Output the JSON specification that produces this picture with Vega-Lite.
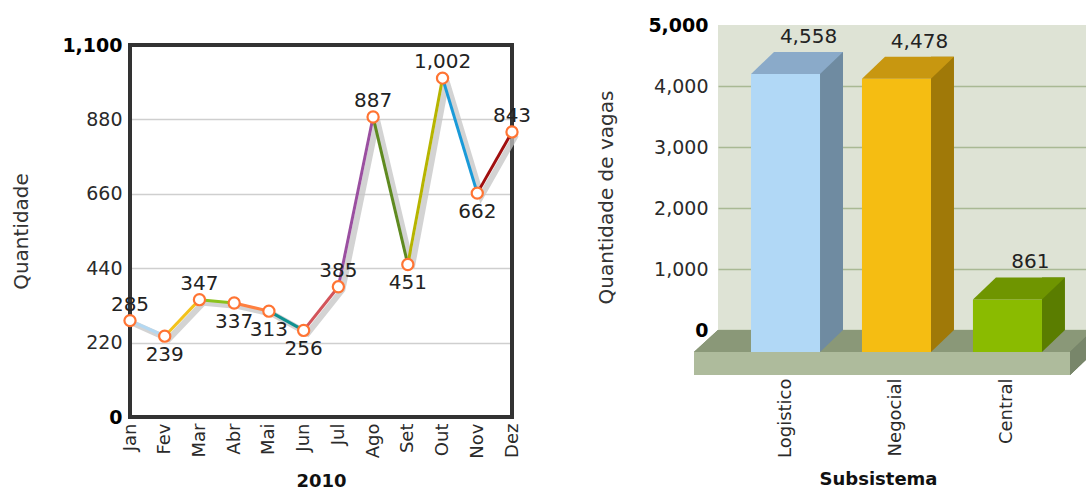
{
  "$schema": "https://vega.github.io/schema/vega-lite/v6.json",
  "padding": {"left": 11, "top": 16, "right": 0, "bottom": 0},
  "background": "white",
  "bounds": "flush",
  "spacing": 206,
  "datasets": {
    "mensal": [
      {"mes": "Jan", "valor": 285},
      {"mes": "Fev", "valor": 239},
      {"mes": "Mar", "valor": 347},
      {"mes": "Abr", "valor": 337},
      {"mes": "Mai", "valor": 313},
      {"mes": "Jun", "valor": 256},
      {"mes": "Jul", "valor": 385},
      {"mes": "Ago", "valor": 887},
      {"mes": "Set", "valor": 451},
      {"mes": "Out", "valor": 1002},
      {"mes": "Nov", "valor": 662},
      {"mes": "Dez", "valor": 843}
    ],
    "vagas": [
      {"subsistema": "Logistico", "vagas": 4558},
      {"subsistema": "Negocial", "vagas": 4478},
      {"subsistema": "Central", "vagas": 861}
    ]
  },
  "config": {
    "font": "DejaVu Sans",
    "view": {"stroke": null},
    "axis": {"labelColor": "#2a2a2a", "titleColor": "#333333", "labelFont": "DejaVu Sans", "titleFont": "DejaVu Sans"},
    "text": {"font": "DejaVu Sans", "color": "#222222"}
  },
  "hconcat": [
    {
      "width": 382,
      "height": 392,
      "data": {"name": "mensal"},
      "encoding": {
        "x": {
          "field": "mes", "type": "ordinal",
          "sort": ["Jan", "Fev", "Mar", "Abr", "Mai", "Jun", "Jul", "Ago", "Set", "Out", "Nov", "Dez"],
          "scale": {"type": "point", "padding": 0},
          "axis": {
            "title": "2010", "labelAngle": -90, "labelFontSize": 18, "labelPadding": 6,
            "ticks": false, "domain": false, "grid": false,
            "titleFontSize": 18, "titleFontWeight": "bold", "titleColor": "#111111", "titlePadding": 14
          }
        },
        "y": {
          "field": "valor", "type": "quantitative",
          "scale": {"domain": [0, 1100], "range": [392, 20], "nice": false, "zero": true},
          "axis": {
            "title": "Quantidade", "values": [0, 220, 440, 660, 880, 1100], "format": ",.0f",
            "domain": false, "ticks": false, "labelPadding": 8, "labelFontSize": 19,
            "labelFontWeight": {"condition": {"test": "datum.value == 0 || datum.value == 1100", "value": "bold"}, "value": "normal"},
            "labelColor": {"condition": {"test": "datum.value == 0 || datum.value == 1100", "value": "#000000"}, "value": "#2a2a2a"},
            "gridColor": "#cfcfcf", "gridWidth": 1.5,
            "titleFontSize": 20, "titleFontWeight": "normal", "titlePadding": 30
          }
        }
      },
      "layer": [
        {
          "mark": {"type": "rect", "filled": false, "stroke": "#333333", "strokeWidth": 3},
          "encoding": {
            "x": {"datum": "Jan", "type": "ordinal"},
            "x2": {"datum": "Dez"},
            "y": {"datum": 1100, "type": "quantitative"},
            "y2": {"datum": 0}
          }
        },
        {
          "mark": {"type": "line", "color": "#c4c4c4", "strokeWidth": 6, "opacity": 0.75, "xOffset": 4, "yOffset": 3},
          "encoding": {}
        },
        {
          "transform": [
            {"window": [{"op": "lead", "field": "mes", "as": "mesSeguinte"}, {"op": "lead", "field": "valor", "as": "valorSeguinte"}]},
            {"filter": "datum.mesSeguinte != null"}
          ],
          "mark": {"type": "rule", "strokeWidth": 3},
          "encoding": {
            "x2": {"field": "mesSeguinte"},
            "y2": {"field": "valorSeguinte"},
            "color": {
              "field": "mes", "type": "nominal", "legend": null,
              "scale": {
                "domain": ["Jan", "Fev", "Mar", "Abr", "Mai", "Jun", "Jul", "Ago", "Set", "Out", "Nov"],
                "range": ["#b3d8f2", "#f3c21c", "#8bc21c", "#ff8040", "#0f9191", "#d2545a", "#9a4fa0", "#5f8a20", "#b6b400", "#1a9ad8", "#a00f0f"]
              }
            }
          }
        },
        {
          "mark": {"type": "point", "filled": true, "fill": "white", "stroke": "#ff7433", "strokeWidth": 2.2, "size": 125, "opacity": 1},
          "encoding": {}
        },
        {
          "transform": [{"filter": {"field": "mes", "oneOf": ["Jan", "Mar", "Jul", "Ago", "Out", "Dez"]}}],
          "mark": {"type": "text", "fontSize": 20, "baseline": "alphabetic", "dy": -10},
          "encoding": {"text": {"field": "valor", "type": "quantitative", "format": ","}}
        },
        {
          "transform": [{"filter": {"field": "mes", "oneOf": ["Fev", "Abr", "Mai", "Jun", "Set", "Nov"]}}],
          "mark": {"type": "text", "fontSize": 20, "baseline": "top", "dy": 9},
          "encoding": {"text": {"field": "valor", "type": "quantitative", "format": ","}}
        }
      ]
    },
    {
      "width": 368,
      "height": 305,
      "view": {"fill": "#dee3d5", "stroke": null},
      "data": {"name": "vagas"},
      "encoding": {
        "x": {
          "field": "subsistema", "type": "nominal", "sort": null,
          "scale": {"type": "band", "paddingInner": 0.378, "paddingOuter": 0.347, "align": 0.727},
          "axis": {
            "title": "Subsistema", "labelAngle": -90, "labelFontSize": 18, "labelPadding": 48, "labelOffset": -23,
            "ticks": false, "domain": false, "grid": false,
            "titleFontSize": 18, "titleFontWeight": "bold", "titleColor": "#111111", "titlePadding": 13, "titleX": 160
          }
        },
        "y": {
          "field": "vagas", "type": "quantitative",
          "scale": {"domain": [0, 5000], "nice": false},
          "axis": {
            "title": "Quantidade de vagas", "values": [0, 1000, 2000, 3000, 4000, 5000], "format": ",.0f",
            "domain": false, "ticks": false, "labelPadding": 10, "labelFontSize": 19,
            "labelFontWeight": {"condition": {"test": "datum.value == 0 || datum.value == 5000", "value": "bold"}, "value": "normal"},
            "labelColor": {"condition": {"test": "datum.value == 0 || datum.value == 5000", "value": "#000000"}, "value": "#2a2a2a"},
            "gridColor": "#a9b994", "gridWidth": 1.5,
            "gridOpacity": {"condition": {"test": "datum.value == 5000", "value": 0}, "value": 1},
            "titleFontSize": 20, "titleFontWeight": "normal", "titlePadding": 31, "titleY": 172
          }
        }
      },
      "layer": [
        {
          "mark": {"type": "rect", "color": "#8a9878", "y2Offset": 22},
          "encoding": {"x": {"value": 0}, "x2": {"value": "width"}, "y": {"datum": 0, "type": "quantitative"}, "y2": {"datum": 0}}
        },
        {
          "mark": {"type": "point", "filled": true, "opacity": 1, "strokeWidth": 0, "size": 4, "shape": "M0,0L0,22L-24,22Z", "color": "#8a9878"},
          "encoding": {"x": {"value": 0}, "y": {"datum": 0, "type": "quantitative"}}
        },
        {
          "mark": {"type": "rect", "color": "#aebb9c", "xOffset": -24, "x2Offset": -16, "yOffset": 22, "y2Offset": 45},
          "encoding": {"x": {"value": 0}, "x2": {"value": "width"}, "y": {"datum": 0, "type": "quantitative"}, "y2": {"datum": 0}}
        },
        {
          "mark": {"type": "point", "filled": true, "opacity": 1, "strokeWidth": 0, "size": 4, "shape": "M-16,22L0,6.7L0,29.7L-16,45Z", "color": "#78866a"},
          "encoding": {"x": {"value": "width"}, "y": {"datum": 0, "type": "quantitative"}}
        },
        {
          "mark": {"type": "bar", "width": 23, "xOffset": 23},
          "encoding": {
            "y2": {"datum": 0},
            "color": {"field": "subsistema", "type": "nominal", "legend": null,
              "scale": {"domain": ["Logistico", "Negocial", "Central"], "range": ["#6f8ba1", "#a07908", "#5a7d00"]}}
          }
        },
        {
          "mark": {"type": "point", "filled": true, "opacity": 1, "strokeWidth": 0, "size": 4, "shape": "M11.5,0L34.5,0L11.5,22Z"},
          "encoding": {
            "y": {"datum": 0, "type": "quantitative"},
            "color": {"field": "subsistema", "type": "nominal", "legend": null,
              "scale": {"domain": ["Logistico", "Negocial", "Central"], "range": ["#6f8ba1", "#a07908", "#5a7d00"]}}
          }
        },
        {
          "mark": {"type": "bar", "xOffset": -23, "x2Offset": -23, "yOffset": 22, "y2Offset": 22},
          "encoding": {
            "y2": {"datum": 0},
            "color": {"field": "subsistema", "type": "nominal", "legend": null,
              "scale": {"domain": ["Logistico", "Negocial", "Central"], "range": ["#b1d8f6", "#f5bd12", "#8abb00"]}}
          }
        },
        {
          "mark": {"type": "point", "filled": true, "opacity": 1, "strokeWidth": 0, "size": 4, "shape": "M-57.5,22L11.5,22L34.5,0L-34.5,0Z"},
          "encoding": {
            "color": {"field": "subsistema", "type": "nominal", "legend": null,
              "scale": {"domain": ["Logistico", "Negocial", "Central"], "range": ["#8aaac9", "#c89710", "#6f9500"]}}
          }
        },
        {
          "mark": {"type": "text", "fontSize": 20, "baseline": "alphabetic", "dy": -9},
          "encoding": {"text": {"field": "vagas", "type": "quantitative", "format": ","}}
        }
      ],
      "resolve": {"scale": {"color": "independent"}}
    }
  ]
}
